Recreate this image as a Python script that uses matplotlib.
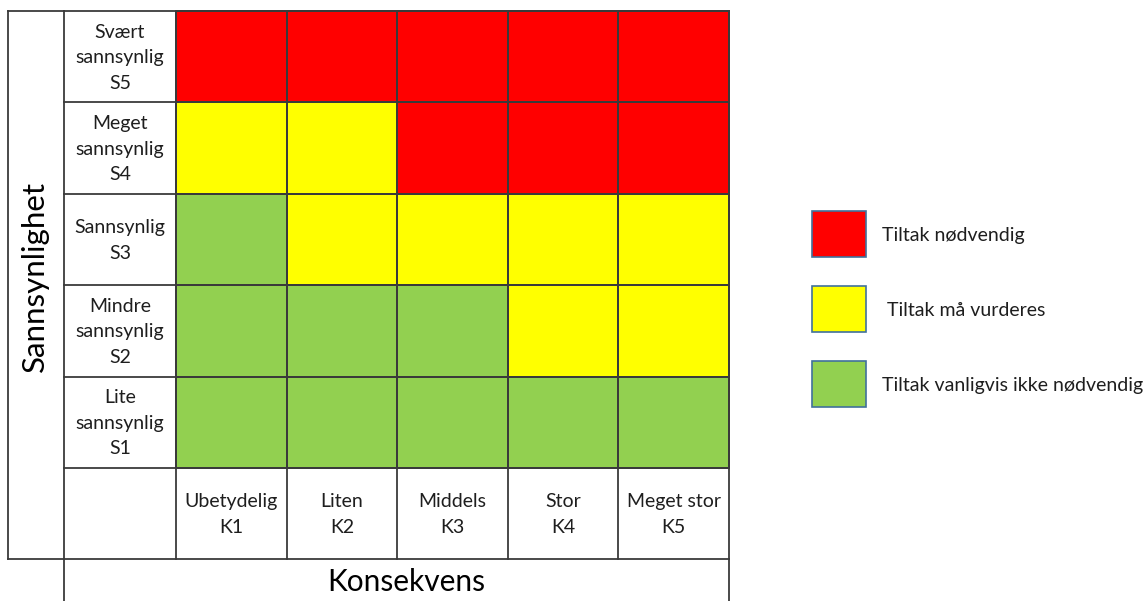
import matplotlib.pyplot as plt
import numpy as np
from matplotlib.colors import ListedColormap
from matplotlib.patches import Rectangle

plt.rcParams['font.family'] = ['Lato', 'DejaVu Sans']

# risk level per cell: 0 = green, 1 = yellow, 2 = red; rows top (S5) to bottom (S1)
risk = np.array([
    [2, 2, 2, 2, 2],
    [1, 1, 2, 2, 2],
    [0, 1, 1, 1, 1],
    [0, 0, 0, 1, 1],
    [0, 0, 0, 0, 0],
])
row_labels = ["Svært\nsannsynlig\nS5", "Meget\nsannsynlig\nS4", "Sannsynlig\nS3",
              "Mindre\nsannsynlig\nS2", "Lite\nsannsynlig\nS1"]
col_labels = ["Ubetydelig\nK1", "Liten\nK2", "Middels\nK3", "Stor\nK4", "Meget stor\nK5"]
level_colors = ["#92D050", "#FFFF00", "#FF0000"]
legend_labels = ["Tiltak nødvendig", " Tiltak må vurderes", "Tiltak vanligvis ikke nødvendig"]
legend_levels = [2, 1, 0]

W, H = 1145, 601
fig = plt.figure(figsize=(W / 100, H / 100), dpi=100)
ax = fig.add_axes([0, 0, 1, 1])
ax.set_xlim(0, W)
ax.set_ylim(H, 0)
ax.axis('off')

line_c = '#3a3a3a'
lw = 1.3
x_out, x_lab, x0, x1 = 8, 64, 176, 729
y0, y_grid, y_bot = 11, 468, 559
xe = np.linspace(x0, x1, 6)
ye = np.linspace(y0, y_grid, 6)

cmap = ListedColormap(level_colors)
ax.pcolormesh(xe, ye, risk, cmap=cmap, vmin=-0.5, vmax=2.5,
              edgecolors=line_c, linewidth=lw)

# table lines
for y in list(ye) + [y_bot]:
    ax.plot([x_lab, x1], [y, y], color=line_c, lw=lw)
for x in xe:
    ax.plot([x, x], [y0, y_bot], color=line_c, lw=lw)
ax.plot([x_out, x_lab], [y0, y0], color=line_c, lw=lw)
ax.plot([x_out, x_lab], [y_bot, y_bot], color=line_c, lw=lw)
ax.plot([x_out, x_out], [y0, y_bot], color=line_c, lw=lw)
ax.plot([x_lab, x_lab], [y0, H], color=line_c, lw=lw)
ax.plot([x1, x1], [y_bot, H], color=line_c, lw=lw)

txt_c = '#1e1e1e'
for i, lab in enumerate(row_labels):
    ax.text((x_lab + x0) / 2, (ye[i] + ye[i + 1]) / 2 + 1, lab, ha='center', va='center',
            fontsize=14, color=txt_c, linespacing=1.62)
for j, lab in enumerate(col_labels):
    ax.text((xe[j] + xe[j + 1]) / 2, (y_grid + y_bot) / 2 + 1, lab, ha='center', va='center',
            fontsize=14, color=txt_c, linespacing=1.62)

ax.text((x_out + x_lab) / 2 - 1, (y0 + y_bot) / 2 - 9, "Sannsynlighet", rotation=90,
        ha='center', va='center', fontsize=22.5, color='black')
ax.text((x_lab + x1) / 2 + 10, (y_bot + H) / 2 + 2, "Konsekvens", ha='center', va='center',
        fontsize=21.5, color='black')

# legend
box_y = [211, 286, 361]
for k, (lab, lev) in enumerate(zip(legend_labels, legend_levels)):
    ax.add_patch(Rectangle((812, box_y[k]), 54, 46, facecolor=level_colors[lev],
                           edgecolor='#41719C', lw=1.2))
    ax.text(882, box_y[k] + 25, lab, ha='left', va='center', fontsize=14, color=txt_c)

fig.savefig("out.png", dpi=100)
